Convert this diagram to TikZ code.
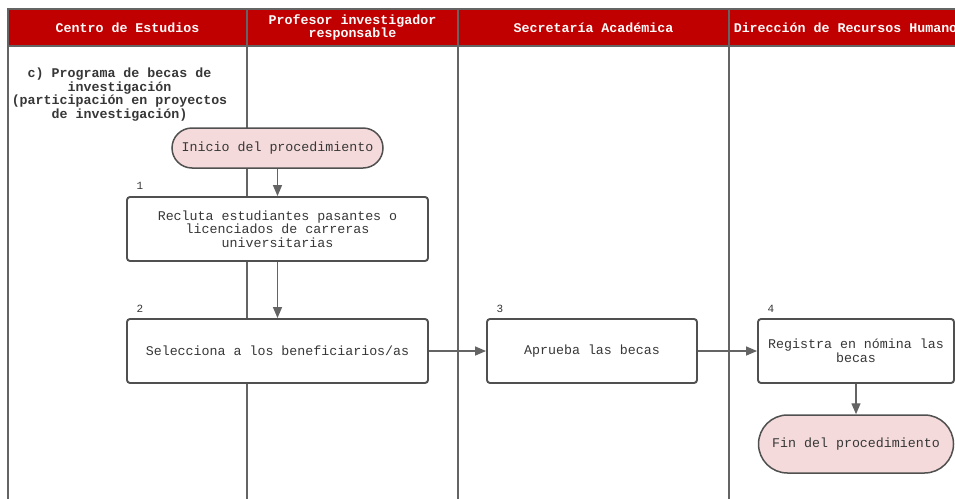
\documentclass[tikz,border=0pt]{standalone}
\usepackage{fontspec}
\setmainfont{Liberation Mono}
\usetikzlibrary{arrows.meta}
\definecolor{hdr}{RGB}{192,0,0}
\definecolor{pinkf}{RGB}{244,218,218}
\definecolor{lanec}{RGB}{100,100,100}
\definecolor{boxc}{RGB}{80,80,80}
\definecolor{txt}{RGB}{55,55,55}
\begin{document}
\begin{tikzpicture}[x=1pt,y=-1pt,
 every node/.style={font=\fontsize{13.3}{13.7}\selectfont, text=txt, inner sep=0pt},
 hdrtext/.style={font=\bfseries\fontsize{13.3}{13.5}\selectfont, text=white!92!pink, align=center},
 titletext/.style={font=\bfseries\fontsize{13.3}{13.8}\selectfont, text=txt, align=center},
 stepbox/.style={draw=boxc, line width=1.9pt, rounded corners=3pt, fill=white, align=center},
 term/.style={draw=boxc, line width=1.5pt, fill=pinkf, align=center},
 numlbl/.style={font=\fontsize{11}{11}\selectfont, text=txt},
 flow/.style={draw=lanec, line width=1.4pt, -{Triangle[length=11pt,width=9pt]}},
 laneline/.style={draw=lanec, line width=1.9pt}]
\useasboundingbox (0,0) rectangle (955,498);
\clip (0,0) rectangle (955,498);
\fill[white] (0,0) rectangle (955,498);
% header band
\filldraw[fill=hdr, draw=lanec, line width=1.6pt] (8,9) rectangle (975,46);
% lane lines
\draw[laneline] (8,9) -- (8,510);
\draw[laneline] (247,9) -- (247,510);
\draw[laneline] (458,9) -- (458,510);
\draw[laneline] (729,9) -- (729,510);
% header texts
\node[hdrtext] (h1) at (127.5,27.5) {Centro de Estudios};
\node[hdrtext] (h2) at (352.5,27.5) {Profesor investigador\\responsable};
\node[hdrtext] (h3) at (593.5,27.5) {Secretaría Académica};
\node[hdrtext] (h4) at (849.5,27.5) {Dirección de Recursos Humanos};
% title
\node[titletext] (title) at (119.5,94.5) {c) Programa de becas de\\investigación\\(participación en proyectos\\de investigación)};
% nodes
\node[term, minimum width=211pt, minimum height=40pt, rounded corners=20pt] (start) at (277.5,148) {Inicio del procedimiento};
\node[stepbox, minimum width=301pt, minimum height=64pt] (s1) at (277.5,229) {Recluta estudiantes pasantes o\\licenciados de carreras\\universitarias};
\node[stepbox, minimum width=301pt, minimum height=64pt] (s2) at (277.5,351) {Selecciona a los beneficiarios/as};
\node[stepbox, minimum width=210pt, minimum height=64pt] (s3) at (592,351) {Aprueba las becas};
\node[stepbox, minimum width=196pt, minimum height=64pt] (s4) at (856,351) {Registra en nómina las\\becas};
\node[term, minimum width=195pt, minimum height=58pt, rounded corners=29pt] (fin) at (856,444) {Fin del procedimiento};
% numbers
\node[numlbl] (n1) at (140,186) {1};
\node[numlbl] (n2) at (140,309) {2};
\node[numlbl] (n3) at (500,309) {3};
\node[numlbl] (n4) at (771,309) {4};
% connectors
\draw[flow] (start) -- (s1);
\draw[flow] (s1) -- (s2);
\draw[flow] (s2) -- (s3);
\draw[flow] (s3) -- (s4);
\draw[flow] (s4) -- (fin);
\end{tikzpicture}
\end{document}
